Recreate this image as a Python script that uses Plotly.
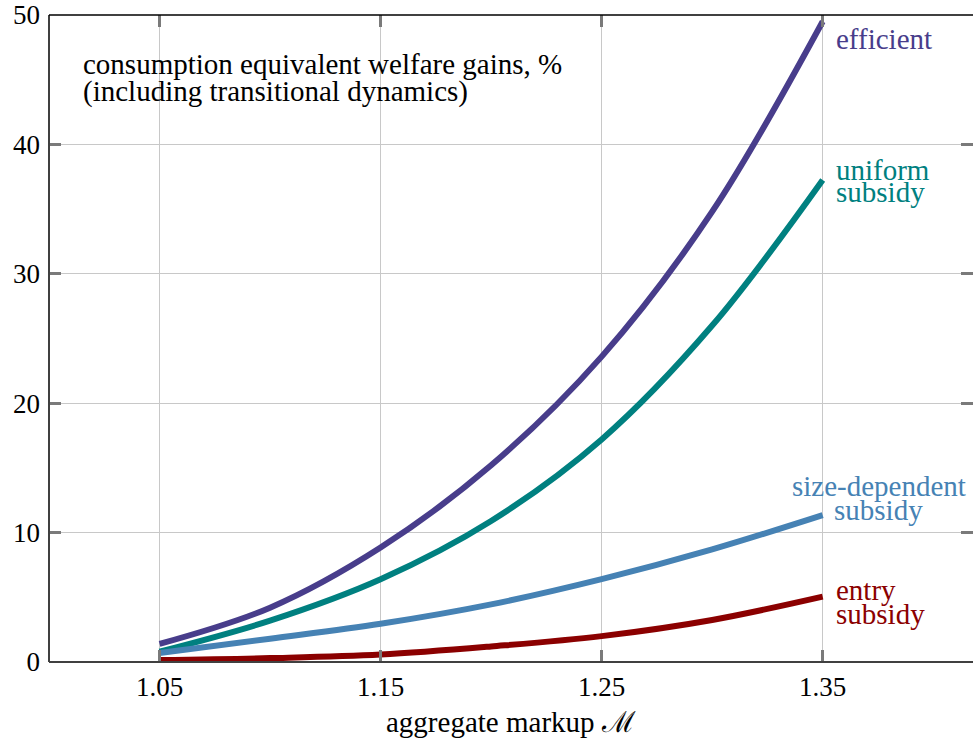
import plotly.graph_objects as go

# aggregate markup grid and welfare gains (%) for each policy
markup = [1.05, 1.10, 1.15, 1.20, 1.25, 1.30, 1.35]
efficient = [1.4, 4.2, 8.85, 15.2, 23.6, 34.8, 49.5]
uniform_subsidy = [0.8, 3.2, 6.4, 10.9, 17.2, 26.0, 37.25]
size_dependent_subsidy = [0.7, 1.8, 2.95, 4.45, 6.4, 8.7, 11.35]
entry_subsidy = [0.15, 0.3, 0.57, 1.2, 2.0, 3.25, 5.05]

x_ticks = [1.05, 1.15, 1.25, 1.35]
x_tick_labels = ["1.05", "1.15", "1.25", "1.35"]
y_ticks = [0, 10, 20, 30, 40, 50]

FONT = "Liberation Serif"
FS_TICK = 27
FS_TEXT = 29

series = [
    ("efficient", efficient, "#483D8B"),
    ("uniform subsidy", uniform_subsidy, "#008080"),
    ("size-dependent subsidy", size_dependent_subsidy, "#4682B4"),
    ("entry subsidy", entry_subsidy, "#8B0000"),
]

fig = go.Figure()
for name, vals, color in series:
    fig.add_trace(go.Scatter(
        x=markup, y=vals, name=name, mode="lines",
        line=dict(color=color, width=6, shape="spline", smoothing=1.0),
        hoverinfo="x+y+name",
    ))

# curve labels, one annotation per text line: (text, y centre, x shift, anchor, colour)
label_lines = [
    ("efficient", 48.15, 11, "left", "#483D8B"),
    ("uniform", 38.05, 11, "left", "#008080"),
    ("subsidy", 36.35, 11, "left", "#008080"),
    ("size-dependent", 13.6, 56, "center", "#4682B4"),
    ("subsidy", 11.75, 56, "center", "#4682B4"),
    ("entry", 5.6, 11, "left", "#8B0000"),
    ("subsidy", 3.7, 11, "left", "#8B0000"),
]
annotations = []
for text, yv, xs, anchor, color in label_lines:
    annotations.append(dict(
        x=1.35, y=yv, xref="x", yref="y", text=text, showarrow=False,
        xanchor=anchor, yanchor="middle", xshift=xs,
        font=dict(family=FONT, size=FS_TEXT, color=color),
    ))

# panel caption
caption = ["consumption equivalent welfare gains, %", "(including transitional dynamics)"]
for i, line in enumerate(caption):
    annotations.append(dict(
        x=1.0, y=46.2 - 2.1 * i, xref="x", yref="y", text=line, showarrow=False,
        xanchor="left", yanchor="middle", xshift=32,
        font=dict(family=FONT, size=FS_TEXT, color="black"),
    ))

# x-axis title
annotations.append(dict(
    x=0.5, y=-0.093, xref="paper", yref="paper", text="aggregate markup \u2133",
    showarrow=False, xanchor="center", yanchor="middle",
    font=dict(family=FONT, size=FS_TEXT, color="black"),
))

# frame lines
shapes = [
    dict(type="line", xref="paper", yref="paper", x0=0, x1=0, y0=0, y1=1,
         line=dict(color="#404040", width=2)),
    dict(type="line", xref="paper", yref="paper", x0=0, x1=1, y0=0, y1=0,
         line=dict(color="#404040", width=2)),
    dict(type="line", xref="paper", yref="paper", x0=0, x1=1, y0=1, y1=1,
         line=dict(color="black", width=1.5)),
]

fig.update_layout(
    width=973, height=742,
    margin=dict(l=49, r=0, t=12, b=80),
    paper_bgcolor="white", plot_bgcolor="white",
    showlegend=False,
    font=dict(family=FONT, size=FS_TICK, color="black"),
    annotations=annotations,
    shapes=shapes,
    xaxis=dict(
        range=[1.0, 1.418], tickvals=x_ticks, ticktext=x_tick_labels,
        ticks="inside", ticklen=12, tickwidth=3, tickcolor="#7a7a7a",
        mirror="ticks", showline=False, zeroline=False,
        showgrid=True, gridcolor="#c8c8c8", gridwidth=1.3,
        tickfont=dict(family=FONT, size=FS_TICK, color="black"),
        ticklabelstandoff=6, ticklabeloverflow="allow",
    ),
    yaxis=dict(
        range=[0, 50], tickvals=y_ticks,
        ticks="inside", ticklen=12, tickwidth=3, tickcolor="#7a7a7a",
        mirror="ticks", showline=False, zeroline=False,
        showgrid=True, gridcolor="#c8c8c8", gridwidth=1.3,
        tickfont=dict(family=FONT, size=FS_TICK, color="black"),
        ticklabelstandoff=8, ticklabeloverflow="allow",
    ),
)

fig.write_html("out.html")
